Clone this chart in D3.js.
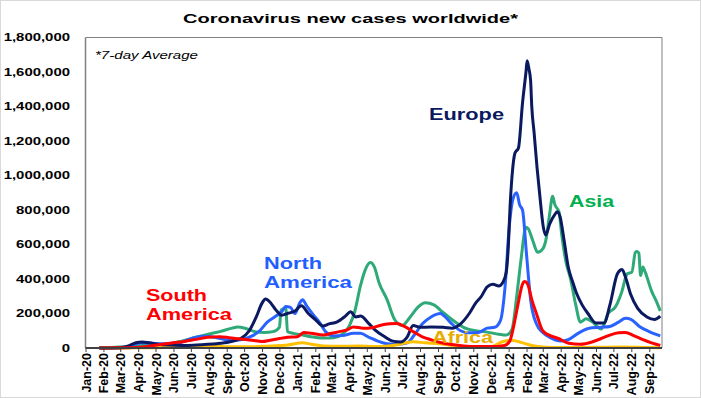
<!DOCTYPE html>
<html>
<head>
<meta charset="utf-8">
<script src="https://cdn.jsdelivr.net/npm/d3@7"></script>
<style>
  body { margin: 0; background: #fff; }
  svg { display: block; font-family: "Liberation Sans", Arial, sans-serif; }
</style>
</head>
<body>
<svg id="chart" width="701" height="398"></svg>
<script>
// 7-day average new cases, thousands
const europe = [["2020-01-25",0],["2020-03-01",2],["2020-03-15",12],["2020-03-28",30],["2020-04-08",35],["2020-04-20",30],["2020-05-05",22],["2020-05-25",17],["2020-06-15",15],["2020-07-05",16],["2020-07-25",20],["2020-08-15",25],["2020-09-05",35],["2020-09-25",55],["2020-10-10",100],["2020-10-22",180],["2020-11-01",260],["2020-11-07",284],["2020-11-15",265],["2020-11-25",220],["2020-12-05",190],["2020-12-15",200],["2020-12-28",215],["2021-01-08",245],["2021-01-20",200],["2021-02-01",165],["2021-02-14",128],["2021-02-25",140],["2021-03-10",150],["2021-03-25",185],["2021-04-03",210],["2021-04-12",180],["2021-04-20",185],["2021-05-05",140],["2021-05-15",105],["2021-06-01",65],["2021-06-15",40],["2021-06-28",35],["2021-07-10",65],["2021-07-20",130],["2021-08-01",120],["2021-08-20",122],["2021-09-10",120],["2021-09-25",115],["2021-10-10",140],["2021-10-25",200],["2021-11-05",260],["2021-11-15",300],["2021-11-25",355],["2021-12-05",370],["2021-12-15",360],["2021-12-22",380],["2021-12-28",440],["2021-12-31",560],["2022-01-04",850],["2022-01-07",1000],["2022-01-12",1130],["2022-01-18",1160],["2022-01-25",1420],["2022-01-31",1600],["2022-02-02",1665],["2022-02-05",1620],["2022-02-08",1550],["2022-02-10",1400],["2022-02-14",1250],["2022-02-19",1050],["2022-02-24",880],["2022-03-02",700],["2022-03-06",655],["2022-03-13",720],["2022-03-22",775],["2022-03-26",790],["2022-03-31",760],["2022-04-07",620],["2022-04-14",470],["2022-04-22",380],["2022-04-28",320],["2022-05-08",250],["2022-05-18",200],["2022-06-01",145],["2022-06-15",145],["2022-06-25",250],["2022-07-08",430],["2022-07-16",455],["2022-07-22",410],["2022-07-31",310],["2022-08-12",230],["2022-08-28",180],["2022-09-10",165],["2022-09-20",185]];

const asia = [["2020-01-25",2],["2020-02-15",3],["2020-03-15",8],["2020-04-10",15],["2020-05-01",18],["2020-05-25",25],["2020-06-15",40],["2020-07-10",62],["2020-07-31",80],["2020-08-20",95],["2020-09-10",115],["2020-09-20",122],["2020-10-05",112],["2020-10-20",95],["2020-11-05",90],["2020-11-20",95],["2020-12-01",120],["2020-12-04",220],["2020-12-12",230],["2020-12-15",95],["2020-12-25",85],["2021-01-10",75],["2021-01-25",65],["2021-02-15",58],["2021-03-05",60],["2021-03-20",80],["2021-04-01",130],["2021-04-10",210],["2021-04-20",360],["2021-04-28",450],["2021-05-07",495],["2021-05-14",470],["2021-05-22",380],["2021-06-05",280],["2021-06-18",165],["2021-07-01",130],["2021-07-15",180],["2021-07-28",235],["2021-08-10",262],["2021-08-25",250],["2021-09-05",220],["2021-09-25",165],["2021-10-15",120],["2021-11-05",100],["2021-11-25",92],["2021-12-15",80],["2021-12-28",75],["2022-01-07",110],["2022-01-15",300],["2022-01-22",500],["2022-01-31",700],["2022-02-04",690],["2022-02-12",620],["2022-02-20",555],["2022-03-01",575],["2022-03-06",620],["2022-03-13",780],["2022-03-18",880],["2022-03-22",830],["2022-03-29",790],["2022-04-03",650],["2022-04-10",500],["2022-04-18",400],["2022-04-27",250],["2022-05-05",150],["2022-05-15",170],["2022-05-28",145],["2022-06-10",110],["2022-06-22",200],["2022-07-05",240],["2022-07-15",320],["2022-07-25",430],["2022-08-02",440],["2022-08-08",555],["2022-08-11",560],["2022-08-14",550],["2022-08-17",420],["2022-08-21",470],["2022-08-25",440],["2022-09-05",330],["2022-09-12",280],["2022-09-20",215]];

const northAmerica = [["2020-01-25",0],["2020-03-10",3],["2020-03-25",20],["2020-04-08",30],["2020-04-20",29],["2020-05-10",25],["2020-05-31",22],["2020-06-20",40],["2020-07-10",62],["2020-07-25",68],["2020-08-15",60],["2020-09-05",45],["2020-09-25",48],["2020-10-15",70],["2020-10-28",100],["2020-11-10",150],["2020-11-25",185],["2020-12-05",210],["2020-12-12",240],["2020-12-20",235],["2020-12-28",200],["2021-01-05",260],["2021-01-10",280],["2021-01-17",245],["2021-01-28",195],["2021-02-08",150],["2021-02-20",90],["2021-03-05",70],["2021-03-20",72],["2021-04-08",85],["2021-04-20",85],["2021-05-05",62],["2021-05-20",40],["2021-06-05",25],["2021-06-25",22],["2021-07-10",30],["2021-07-22",75],["2021-08-05",140],["2021-08-20",180],["2021-09-05",200],["2021-09-12",185],["2021-09-25",140],["2021-10-10",100],["2021-10-25",88],["2021-11-10",90],["2021-11-25",115],["2021-12-08",120],["2021-12-18",160],["2021-12-26",360],["2022-01-02",700],["2022-01-09",870],["2022-01-15",900],["2022-01-20",830],["2022-01-25",800],["2022-02-01",540],["2022-02-08",280],["2022-02-18",140],["2022-03-01",90],["2022-03-15",58],["2022-04-01",40],["2022-04-15",50],["2022-05-01",85],["2022-05-20",115],["2022-06-10",120],["2022-06-25",125],["2022-07-10",150],["2022-07-22",172],["2022-08-01",165],["2022-08-15",125],["2022-09-01",95],["2022-09-20",70]];

const southAmerica = [["2020-01-25",0],["2020-03-15",1],["2020-04-15",8],["2020-05-10",20],["2020-06-01",30],["2020-06-20",38],["2020-07-10",50],["2020-07-30",62],["2020-08-20",65],["2020-09-05",60],["2020-09-25",52],["2020-10-15",45],["2020-11-01",37],["2020-11-15",45],["2020-12-01",55],["2020-12-15",62],["2021-01-01",65],["2021-01-12",90],["2021-01-25",85],["2021-02-15",75],["2021-03-01",85],["2021-03-15",95],["2021-03-28",105],["2021-04-08",122],["2021-04-25",115],["2021-05-10",118],["2021-05-25",132],["2021-06-10",140],["2021-06-22",142],["2021-07-05",125],["2021-07-20",95],["2021-08-05",65],["2021-08-20",48],["2021-09-05",32],["2021-09-25",20],["2021-10-15",12],["2021-11-05",8],["2021-12-01",8],["2021-12-25",15],["2022-01-03",40],["2022-01-10",130],["2022-01-17",250],["2022-01-25",370],["2022-01-29",385],["2022-02-03",370],["2022-02-10",280],["2022-02-18",200],["2022-03-01",100],["2022-03-12",75],["2022-03-28",55],["2022-04-15",28],["2022-05-05",22],["2022-05-25",35],["2022-06-10",55],["2022-06-25",75],["2022-07-10",88],["2022-07-22",90],["2022-08-05",72],["2022-08-20",50],["2022-09-05",30],["2022-09-20",15]];

const africa = [["2020-01-25",0],["2020-04-01",1],["2020-05-15",3],["2020-06-15",7],["2020-07-20",14],["2020-08-15",10],["2020-09-15",7],["2020-10-15",7],["2020-11-15",12],["2020-12-15",18],["2021-01-10",30],["2021-01-25",22],["2021-02-15",12],["2021-03-15",10],["2021-04-15",11],["2021-05-15",8],["2021-06-15",15],["2021-07-10",32],["2021-07-20",36],["2021-08-10",30],["2021-09-05",25],["2021-10-01",12],["2021-11-01",5],["2021-12-01",6],["2021-12-20",35],["2022-01-05",45],["2022-01-20",35],["2022-02-10",15],["2022-03-01",6],["2022-04-01",3],["2022-06-01",4],["2022-07-15",6],["2022-09-20",2]];

const yTicks = [0, 200000, 400000, 600000, 800000, 1000000, 1200000, 1400000, 1600000, 1800000];
const monthTicks = d3.timeMonths(new Date(2020, 0, 1), new Date(2022, 8, 2));

const series = [
  { name: "Asia", data: asia, color: "#2eaa78" },
  { name: "North America", data: northAmerica, color: "#2962ff" },
  { name: "Africa", data: africa, color: "#ffc000" },
  { name: "Europe", data: europe, color: "#0b1a60" },
  { name: "South America", data: southAmerica, color: "#ff0000" }
];

const svg = d3.select("#chart");
const m = { left: 85.5, right: 662, top: 37.5, bottom: 348 };
const parse = d3.timeParse("%Y-%m-%d");

const x = d3.scaleTime()
  .domain([new Date(2020, 0, 1), new Date(2022, 8, 23)])
  .range([m.left, m.right]);
const y = d3.scaleLinear()
  .domain([0, 1800000])
  .range([m.bottom, m.top]);

// outer frame
svg.append("rect")
  .attr("x", 0.5).attr("y", 0.5).attr("width", 700).attr("height", 397)
  .attr("fill", "#fff").attr("stroke", "#d9d9d9");

// plot box
svg.append("path")
  .attr("d", `M${m.left},${m.top}H${m.right}V${m.bottom}`)
  .attr("fill", "none").attr("stroke", "#808080").attr("stroke-width", 1);

// stretch text horizontally like the original render
function stretch(sel, k) {
  sel.each(function() {
    const w = this.getComputedTextLength();
    d3.select(this).attr("textLength", w * k).attr("lengthAdjust", "spacingAndGlyphs");
  });
}

// title
svg.append("text")
  .attr("x", 183).attr("y", 23)
  .attr("font-size", 12.5).attr("font-weight", "bold")
  .attr("textLength", 335).attr("lengthAdjust", "spacingAndGlyphs")
  .text("Coronavirus new cases worldwide*");

// y axis labels
svg.append("g").selectAll("text")
  .data(yTicks).join("text")
  .attr("x", 70).attr("y", d => y(d))
  .attr("dy", "0.36em")
  .attr("text-anchor", "end")
  .attr("font-size", 10.5).attr("font-weight", "bold")
  .text(d => d3.format(",")(d))
  .call(stretch, 1.42);

// lines
const line = d3.line()
  .x(d => x(parse(d[0])))
  .y(d => y(d[1] * 1000))
  .curve(d3.curveMonotoneX);

svg.append("g").selectAll("path")
  .data(series).join("path")
  .attr("d", d => line(d.data))
  .attr("fill", "none")
  .attr("stroke", d => d.color)
  .attr("stroke-width", 3)
  .attr("stroke-linejoin", "round");

// y axis line
svg.append("line")
  .attr("x1", m.left).attr("x2", m.left).attr("y1", m.top).attr("y2", m.bottom)
  .attr("stroke", "#808080").attr("stroke-width", 1.5);

// x axis
const xAxis = svg.append("g")
  .attr("transform", `translate(0,${m.bottom})`)
  .call(d3.axisBottom(x).tickValues(monthTicks).tickSize(4).tickSizeOuter(0).tickFormat(d3.timeFormat("%b-%y")));
xAxis.select(".domain").attr("stroke", "#404040").attr("stroke-width", 2).attr("d", `M${m.left},0H${m.right}`);
xAxis.selectAll(".tick line").attr("stroke", "#404040");
xAxis.selectAll(".tick text")
  .attr("font-family", "'Liberation Sans', Arial, sans-serif")
  .attr("font-size", 12.5).attr("font-weight", "bold").attr("fill", "#000")
  .attr("transform", "rotate(-90)")
  .attr("text-anchor", "end")
  .attr("x", -5).attr("y", 0).attr("dy", "0.36em");

// note
svg.append("text")
  .attr("x", 95).attr("y", 59)
  .attr("font-size", 10.5).attr("font-style", "italic")
  .attr("textLength", 103).attr("lengthAdjust", "spacingAndGlyphs")
  .text("*7-day Average");

// series labels
const labels = [
  { lines: ["Europe"], x: 429, y: 120, w: [75], color: "#0b1a60" },
  { lines: ["Asia"], x: 569, y: 207, w: [45], color: "#00b050" },
  { lines: ["North", "America"], x: 264, y: 269, w: [58, 88], color: "#1f5eff" },
  { lines: ["South", "America"], x: 146, y: 301, w: [61, 86], color: "#ff0000" },
  { lines: ["Africa"], x: 432, y: 343, w: [61], color: "#e6ac00" }
];
labels.forEach(l => {
  l.lines.forEach((t, i) => {
    svg.append("text")
      .attr("x", l.x).attr("y", l.y + i * 19)
      .attr("font-size", 17).attr("font-weight", "bold")
      .attr("fill", l.color)
      .attr("textLength", l.w[i]).attr("lengthAdjust", "spacingAndGlyphs")
      .text(t);
  });
});
</script>
</body>
</html>
